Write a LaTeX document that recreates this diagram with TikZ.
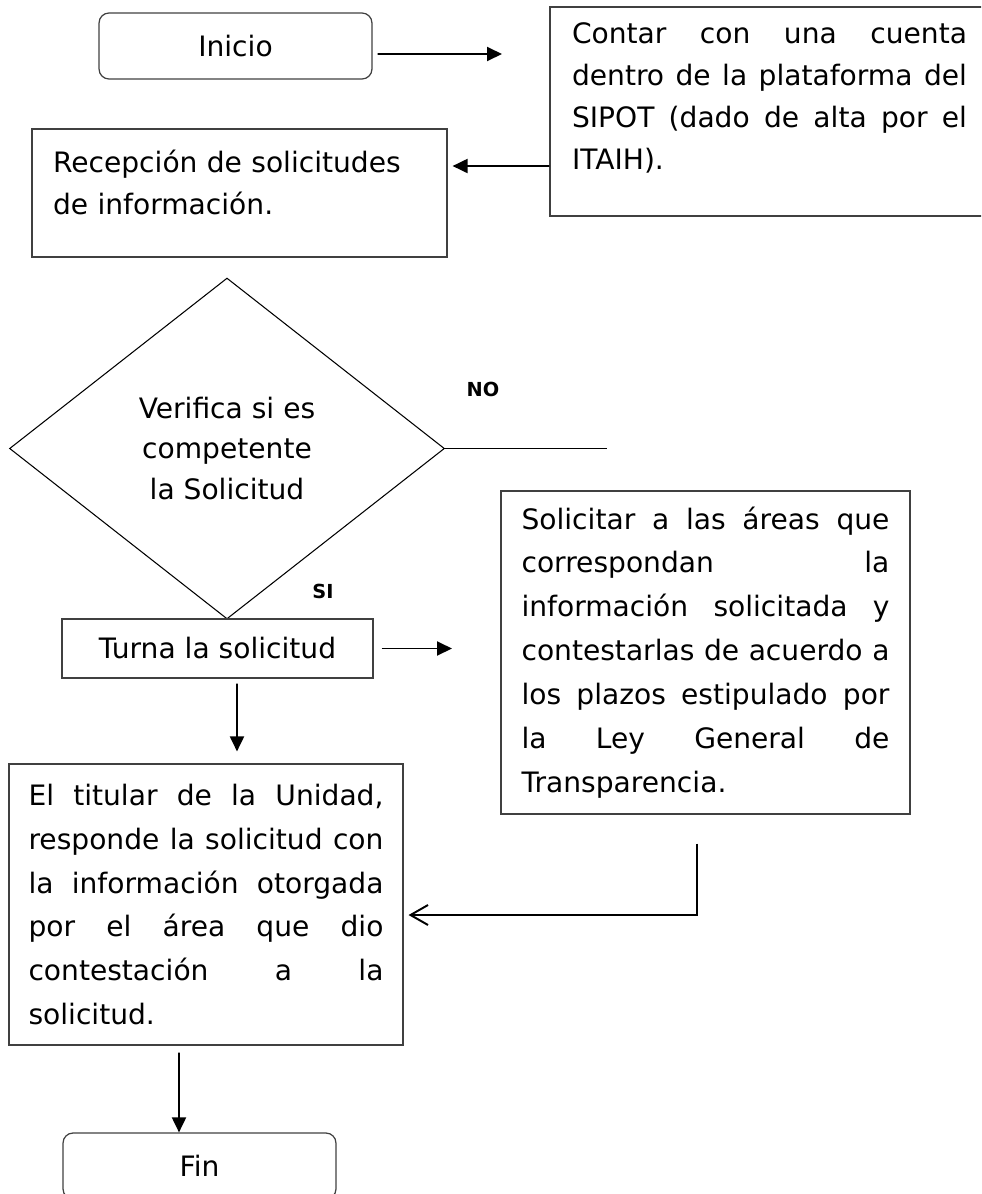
\documentclass[tikz,border=0pt]{standalone}
\usepackage{fontspec}
\setmainfont{DejaVu Sans}
\usetikzlibrary{shapes.geometric, arrows.meta}
\newcommand{\boxfont}{\hyphenpenalty=10000\relax\tolerance=10000\relax\hbadness=10000\relax\fontsize{16}{25}\selectfont}

\begin{document}
\begin{tikzpicture}[x=0.02cm, y=-0.02cm,
    box/.style={draw=black!75, line width=0.7pt, inner sep=0pt, align=justify, font=\boxfont},
    txt/.style={inner sep=0pt, align=justify, font=\boxfont},
    term/.style={draw=black!75, line width=0.7pt, rounded corners=0.2cm,
        minimum width=5.46cm, minimum height=1.32cm, font=\fontsize{16}{25}\selectfont},
    decision/.style={diamond, draw, line width=0.6pt, inner sep=0pt, minimum width=8.7cm,
        minimum height=6.82cm, align=center, font=\fontsize{16}{23}\selectfont},
    lbl/.style={font=\fontsize{11}{13}\selectfont\bfseries},
    flow/.style={-{Triangle[length=0.3cm,width=0.28cm]}, line width=1.1pt}]
    \useasboundingbox (0,0) rectangle (981,1194);
    \clip (0,0) rectangle (981,1194);
    % Start and account
    \node[term] (inicio) at (235.5,46) {Inicio};
    \node[box, minimum width=8.78cm, minimum height=4.18cm] (contar) at (769.5,111.5) {};
    \node[txt, text width=7.9cm, font=\boxfont\fontsize{16}{24}\selectfont] (contartxt) at (769.5,98)
        {Contar con una cuenta\linebreak dentro de la plataforma del\linebreak SIPOT (dado de alta por el\linebreak ITAIH).};
    \node[box, minimum width=8.3cm, minimum height=2.56cm] (recep) at (239.5,193) {};
    \node[txt, align=left, text width=7.46cm, font=\boxfont\fontsize{16}{23.5}\selectfont] (receptxt) at (239.5,182.5)
        {Recepción de solicitudes\\de información.};
    % Decision
    \node[decision] (verif) at (227,448.5) {Verifica si es\\competente\\la Solicitud};
    \coordinate (noend) at (607,448.5);
    \node[lbl] (no) at (483,389) {NO};
    \node[lbl] (si) at (323,591) {SI};
    % Steps
    \node[box, align=center, minimum width=6.22cm, minimum height=1.18cm] (turna) at (217.5,648.5) {Turna la solicitud};
    \node[box, text width=7.36cm, minimum width=8.18cm, minimum height=6.46cm] (solic) at (705.5,652.5)
        {Solicitar a las áreas que\linebreak correspondan la\linebreak información solicitada y\linebreak
         contestarlas de acuerdo a\linebreak los plazos estipulado por\linebreak la Ley General de\linebreak Transparencia.};
    \node[box, text width=7.1cm, minimum width=7.88cm, minimum height=5.62cm] (titular) at (206,904.5)
        {El titular de la Unidad,\linebreak responde la solicitud con\linebreak la información otorgada\linebreak
         por el área que dio\linebreak contestación a la\linebreak solicitud.};
    \node[term] (fin) at (199.5,1166) {Fin};
    % Connectors
    \coordinate (ctin) at (502,54);
    \coordinate (tsend) at (452,648.5);
    \draw[flow] ([xshift=0.1cm, yshift=-0.16cm]inicio.east) -- (ctin);
    \draw[flow] ([yshift=-1.09cm]contar.west) -- ([xshift=0.1cm, yshift=0.54cm]recep.east);
    \draw[line width=0.6pt] (verif.east) -- (noend);
    \draw[flow] ([xshift=0.16cm]turna.east) -- (tsend);
    \draw[flow] ([xshift=0.39cm, yshift=-0.1cm]turna.south) -- ([xshift=0.62cm, yshift=0.24cm]titular.north);
    \draw[line width=1.1pt, -{Straight Barb[length=0.35cm, width=0.4cm]}]
        ([xshift=-0.17cm, yshift=-0.58cm]solic.south) |- ([xshift=0.1cm, yshift=-0.21cm]titular.east);
    \draw[flow] ([xshift=-0.54cm, yshift=-0.14cm]titular.south) -- ([xshift=-0.41cm]fin.north);
\end{tikzpicture}
\end{document}
